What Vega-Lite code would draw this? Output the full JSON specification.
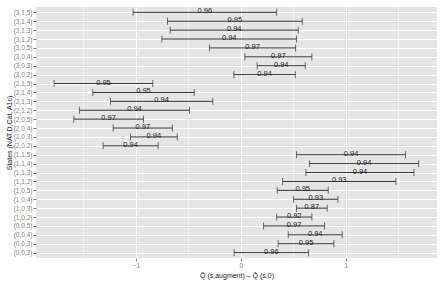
{
  "$schema": "https://vega.github.io/schema/vega-lite/v6.json",
  "width": 401,
  "height": 251,
  "autosize": {"type": "none"},
  "padding": {"left": 36, "top": 7, "right": 8, "bottom": 27},
  "background": "white",
  "config": {
    "view": {"fill": "#E5E5E5", "stroke": null},
    "font": "Liberation Sans"
  },
  "data": {
    "values": [
      {"state": "(3,1,5)", "lo": -1.026, "hi": 0.340, "cov": "0.96"},
      {"state": "(3,1,4)", "lo": -0.698, "hi": 0.584, "cov": "0.95"},
      {"state": "(3,1,3)", "lo": -0.673, "hi": 0.546, "cov": "0.94"},
      {"state": "(3,1,2)", "lo": -0.752, "hi": 0.530, "cov": "0.94"},
      {"state": "(3,0,5)", "lo": -0.298, "hi": 0.521, "cov": "0.97"},
      {"state": "(3,0,4)", "lo": 0.038, "hi": 0.676, "cov": "0.97"},
      {"state": "(3,0,3)", "lo": 0.155, "hi": 0.613, "cov": "0.94"},
      {"state": "(3,0,2)", "lo": -0.067, "hi": 0.518, "cov": "0.94"},
      {"state": "(2,1,5)", "lo": -1.778, "hi": -0.838, "cov": "0.95"},
      {"state": "(2,1,4)", "lo": -1.410, "hi": -0.444, "cov": "0.95"},
      {"state": "(2,1,3)", "lo": -1.241, "hi": -0.267, "cov": "0.94"},
      {"state": "(2,1,2)", "lo": -1.537, "hi": -0.489, "cov": "0.94"},
      {"state": "(2,0,5)", "lo": -1.590, "hi": -0.927, "cov": "0.97"},
      {"state": "(2,0,4)", "lo": -1.216, "hi": -0.651, "cov": "0.97"},
      {"state": "(2,0,3)", "lo": -1.051, "hi": -0.606, "cov": "0.94"},
      {"state": "(2,0,2)", "lo": -1.311, "hi": -0.787, "cov": "0.94"},
      {"state": "(1,1,5)", "lo": 0.530, "hi": 1.568, "cov": "0.94"},
      {"state": "(1,1,4)", "lo": 0.654, "hi": 1.692, "cov": "0.94"},
      {"state": "(1,1,3)", "lo": 0.619, "hi": 1.648, "cov": "0.94"},
      {"state": "(1,1,2)", "lo": 0.397, "hi": 1.476, "cov": "0.93"},
      {"state": "(1,0,5)", "lo": 0.346, "hi": 0.832, "cov": "0.95"},
      {"state": "(1,0,4)", "lo": 0.502, "hi": 0.924, "cov": "0.93"},
      {"state": "(1,0,3)", "lo": 0.530, "hi": 0.822, "cov": "0.87"},
      {"state": "(1,0,2)", "lo": 0.340, "hi": 0.676, "cov": "0.92"},
      {"state": "(0,0,5)", "lo": 0.216, "hi": 0.797, "cov": "0.97"},
      {"state": "(0,0,4)", "lo": 0.451, "hi": 0.965, "cov": "0.94"},
      {"state": "(0,0,3)", "lo": 0.355, "hi": 0.886, "cov": "0.95"},
      {"state": "(0,0,2)", "lo": -0.064, "hi": 0.645, "cov": "0.96"}
    ]
  },
  "encoding": {
    "y": {
      "field": "state",
      "type": "ordinal",
      "sort": null,
      "scale": {"type": "point", "padding": 0.6},
      "axis": {
        "title": "States (NAT,D,Cat, A1c)",
        "titleFontSize": 7,
        "titleFontWeight": "normal",
        "titleColor": "#222",
        "titlePadding": 1,
        "labelFontSize": 6.5,
        "labelColor": "#7F7F7F",
        "labelPadding": 1,
        "tickSize": 3,
        "tickColor": "#7F7F7F",
        "domain": false,
        "grid": true,
        "gridColor": "white",
        "gridWidth": 1
      }
    }
  },
  "resolve": {"axis": {"x": "independent"}},
  "layer": [
    {
      "mark": {"type": "rule", "color": "#333333", "strokeWidth": 1},
      "encoding": {
        "x": {
          "field": "lo",
          "type": "quantitative",
          "scale": {"domain": [-1.95, 1.867], "nice": false, "zero": false},
          "axis": {
            "orient": "bottom",
            "title": null,
            "values": [-1.5, -0.5, 0.5, 1.5],
            "labels": false,
            "ticks": false,
            "domain": false,
            "grid": true,
            "gridColor": "#F2F2F2",
            "gridWidth": 1
          }
        },
        "x2": {"field": "hi"}
      }
    },
    {
      "mark": {"type": "tick", "color": "#333333", "thickness": 1, "size": 7, "orient": "vertical"},
      "encoding": {
        "x": {
          "field": "lo",
          "type": "quantitative",
          "axis": {
            "orient": "bottom",
            "title": "Q\u0302  (s,augment) \u2013 Q\u0302  (s,0)",
            "titleFontSize": 7,
            "titleFontWeight": "normal",
            "titleColor": "#222",
            "titlePadding": 3,
            "values": [-1, 0, 1],
            "format": "d",
            "labelFontSize": 6.5,
            "labelColor": "#7F7F7F",
            "labelPadding": 1,
            "tickSize": 3,
            "tickColor": "#7F7F7F",
            "domain": false,
            "grid": true,
            "gridColor": "white",
            "gridWidth": 1
          }
        }
      }
    },
    {
      "mark": {"type": "tick", "color": "#333333", "thickness": 1, "size": 7, "orient": "vertical"},
      "encoding": {"x": {"field": "hi", "type": "quantitative", "axis": null}}
    },
    {
      "transform": [{"calculate": "(datum.lo + datum.hi) / 2", "as": "mid"}],
      "mark": {"type": "text", "fontSize": 7.5, "color": "#222222", "baseline": "alphabetic", "dy": 1},
      "encoding": {
        "x": {"field": "mid", "type": "quantitative", "axis": null},
        "text": {"field": "cov"}
      }
    }
  ]
}
